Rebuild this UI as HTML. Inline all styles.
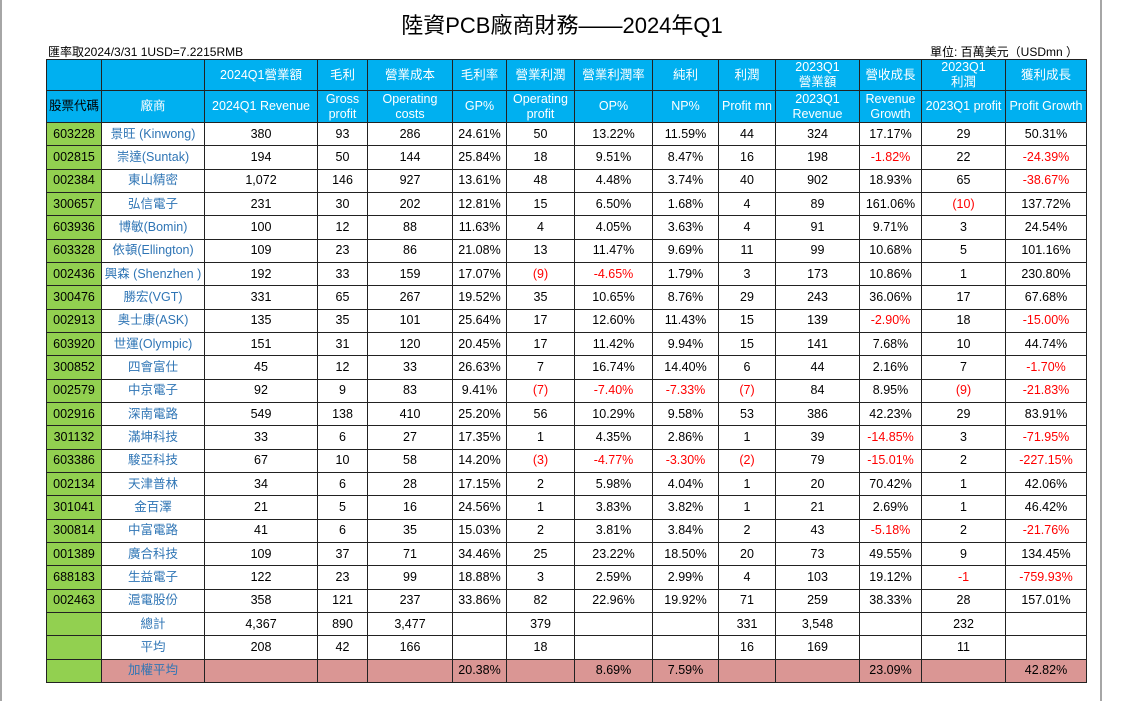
<!DOCTYPE html>
<html><head><meta charset="utf-8">
<style>
body{margin:0;width:1124px;height:701px;background:#fff;position:relative;overflow:hidden;font-family:"Liberation Sans","Noto Sans CJK TC",sans-serif;}
.vl{position:absolute;top:0;height:701px;width:2px;background:#a6a6a6;}
#title{position:absolute;left:0;width:1124px;top:8px;text-align:center;font-size:22px;color:#000;}
#rate{position:absolute;left:48px;top:43px;font-size:12px;}
#unit{position:absolute;right:46px;top:43px;font-size:12px;}
table{position:absolute;left:46px;top:59px;border-collapse:collapse;table-layout:fixed;width:1040px;font-size:12.5px;}
td{border:1px solid #222;text-align:center;padding:0;overflow:hidden;white-space:nowrap;line-height:15px;}
tr.h td{background:#00B0F0;color:#fff;white-space:normal;}
tr.d td{height:22.33px;}
td.code{background:#92D050;color:#000;}
td.name{color:#2F75B5;}
.neg{color:#f00;}
tr.w td{background:#DA9694;}
tr.w td.code{background:#92D050;}
</style></head><body>
<div class="vl" style="left:0"></div>
<div class="vl" style="left:1100px"></div>
<div id="title">陸資PCB廠商財務——2024年Q1</div>
<div id="rate">匯率取2024/3/31 1USD=7.2215RMB</div>
<div id="unit">單位: 百萬美元（USDmn ）</div>
<table id="tbl">
<colgroup><col style="width:55px"><col style="width:103px"><col style="width:113px"><col style="width:50px"><col style="width:85px"><col style="width:54px"><col style="width:68px"><col style="width:78px"><col style="width:66px"><col style="width:57px"><col style="width:84px"><col style="width:62px"><col style="width:84px"><col style="width:81px"></colgroup>
<tr class="h" style="height:30px">
<td class="code"></td>
<td></td>
<td>2024Q1營業額</td>
<td>毛利</td>
<td>營業成本</td>
<td>毛利率</td>
<td>營業利潤</td>
<td>營業利潤率</td>
<td>純利</td>
<td>利潤</td>
<td>2023Q1<br>營業額</td>
<td>營收成長</td>
<td>2023Q1<br>利潤</td>
<td>獲利成長</td>
</tr>
<tr class="h" style="height:32px">
<td class="code" style="color:#000">股票代碼</td>
<td>廠商</td>
<td>2024Q1 Revenue</td>
<td>Gross profit</td>
<td>Operating costs</td>
<td>GP%</td>
<td>Operating profit</td>
<td>OP%</td>
<td>NP%</td>
<td>Profit mn</td>
<td>2023Q1 Revenue</td>
<td>Revenue Growth</td>
<td>2023Q1 profit</td>
<td>Profit Growth</td>
</tr>
</table>
<script>
const codes=["603228","002815","002384","300657","603936","603328","002436","300476","002913","603920","300852","002579","002916","301132","603386","002134","301041","300814","001389","688183","002463","","",""];
const names=["景旺 (Kinwong)","崇達(Suntak)","東山精密","弘信電子","博敏(Bomin)","依頓(Ellington)","興森 (Shenzhen )","勝宏(VGT)","奥士康(ASK)","世運(Olympic)","四會富仕","中京電子","深南電路","滿坤科技","駿亞科技","天津普林","金百澤","中富電路","廣合科技","生益電子","滬電股份","總計","平均","加權平均"];
const revenue=["380","194","1,072","231","100","109","192","331","135","151","45","92","549","33","67","34","21","41","109","122","358","4,367","208",""];
const gross=["93","50","146","30","12","23","33","65","35","31","12","9","138","6","10","6","5","6","37","23","121","890","42",""];
const opcost=["286","144","927","202","88","86","159","267","101","120","33","83","410","27","58","28","16","35","71","99","237","3,477","166",""];
const gp=["24.61%","25.84%","13.61%","12.81%","11.63%","21.08%","17.07%","19.52%","25.64%","20.45%","26.63%","9.41%","25.20%","17.35%","14.20%","17.15%","24.56%","15.03%","34.46%","18.88%","33.86%","","","20.38%"];
const opprofit=["50","18","48","15","4","13","(9)","35","17","17","7","(7)","56","1","(3)","2","1","2","25","3","82","379","18",""];
const op=["13.22%","9.51%","4.48%","6.50%","4.05%","11.47%","-4.65%","10.65%","12.60%","11.42%","16.74%","-7.40%","10.29%","4.35%","-4.77%","5.98%","3.83%","3.81%","23.22%","2.59%","22.96%","","","8.69%"];
const np=["11.59%","8.47%","3.74%","1.68%","3.63%","9.69%","1.79%","8.76%","11.43%","9.94%","14.40%","-7.33%","9.58%","2.86%","-3.30%","4.04%","3.82%","3.84%","18.50%","2.99%","19.92%","","","7.59%"];
const profit=["44","16","40","4","4","11","3","29","15","15","6","(7)","53","1","(2)","1","1","2","20","4","71","331","16",""];
const rev23=["324","198","902","89","91","99","173","243","139","141","44","84","386","39","79","20","21","43","73","103","259","3,548","169",""];
const revgrowth=["17.17%","-1.82%","18.93%","161.06%","9.71%","10.68%","10.86%","36.06%","-2.90%","7.68%","2.16%","8.95%","42.23%","-14.85%","-15.01%","70.42%","2.69%","-5.18%","49.55%","19.12%","38.33%","","","23.09%"];
const profit23=["29","22","65","(10)","3","5","1","17","18","10","7","(9)","29","3","2","1","1","2","9","-1","28","232","11",""];
const profitgrowth=["50.31%","-24.39%","-38.67%","137.72%","24.54%","101.16%","230.80%","67.68%","-15.00%","44.74%","-1.70%","-21.83%","83.91%","-71.95%","-227.15%","42.06%","46.42%","-21.76%","134.45%","-759.93%","157.01%","","","42.82%"];
const cols=[revenue,gross,opcost,gp,opprofit,op,np,profit,rev23,revgrowth,profit23,profitgrowth];
const colNames=["revenue","gross-profit","operating-cost","gp-pct","operating-profit","op-pct","np-pct","profit","revenue-2023","revenue-growth","profit-2023","profit-growth"];
const tbl=document.getElementById('tbl');
for(let i=0;i<names.length;i++){
  const tr=document.createElement('tr');
  tr.className='d'+(i===23?' w':'');
  
  
  const c=document.createElement('td');c.className='code';c.textContent=codes[i];
  
  
  tr.appendChild(c);
  const n=document.createElement('td');n.className='name';n.textContent=names[i];
  
  
  tr.appendChild(n);
  for(let j=0;j<cols.length;j++){
    const v=cols[j][i];
    const td=document.createElement('td');td.textContent=v;
    if(v.startsWith('-')||v.startsWith('('))td.className='neg';
    
    
    tr.appendChild(td);
  }
  tbl.appendChild(tr);
}
</script>
</body></html>
